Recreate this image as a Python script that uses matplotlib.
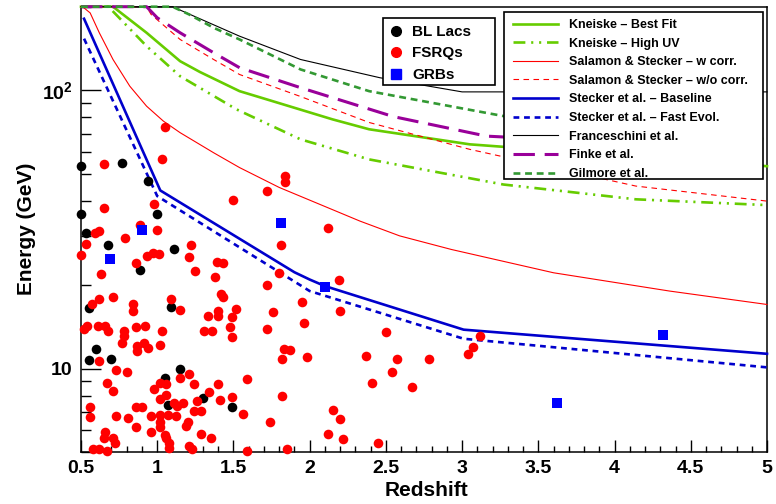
import numpy as np
import matplotlib
matplotlib.use("Agg")
import matplotlib.pyplot as plt
from matplotlib.lines import Line2D
from matplotlib.patches import Rectangle
from matplotlib.ticker import FixedLocator, LogLocator, NullFormatter, MultipleLocator

plt.rcParams['font.family'] = ['Liberation Sans', 'DejaVu Sans']
plt.rcParams['font.weight'] = 'bold'
plt.rcParams['mathtext.fontset'] = 'custom'
plt.rcParams['mathtext.rm'] = 'Liberation Sans:bold'
plt.rcParams['mathtext.bf'] = 'Liberation Sans:bold'

# ---------------- data ----------------
bllac_z = [0.50, 0.77, 0.94, 0.50, 1.00, 0.53, 0.68, 1.11, 0.89, 0.55, 1.09, 0.60,
           0.55, 0.70, 1.15, 1.05, 1.30, 1.07, 1.49]
bllac_E = [53.5, 54.7, 47.4, 36.0, 36.1, 30.8, 27.9, 27.0, 22.6, 16.5, 16.7, 11.8,
           10.7, 10.8, 10.0, 9.28, 7.83, 7.38, 7.30]

fsrq_z = [1.05, 0.65, 1.03, 0.65, 0.98, 0.89, 1.00, 0.59, 0.62, 0.79, 0.53, 0.50,
          1.22, 1.21, 0.93, 0.97, 1.01, 0.86, 0.63, 1.25, 0.62, 0.71, 1.09, 1.38,
          0.57, 0.84, 0.84, 1.15, 1.33, 0.52, 0.54, 0.61, 0.66, 0.68, 0.78, 0.78,
          0.77, 0.86, 0.92, 0.87, 0.87, 0.91, 0.94, 1.03, 1.02, 1.31, 1.36, 0.62,
          0.73, 0.80, 1.15, 1.21, 1.02, 1.06, 0.67, 0.71, 0.98, 1.24, 1.34, 1.06,
          1.02, 1.26, 1.11, 1.13, 1.17, 0.56, 0.56, 0.86, 0.90, 1.24, 1.29, 0.73,
          0.81, 0.96, 1.02, 1.07, 1.12, 1.20, 1.19, 0.86, 1.02, 1.02, 1.05, 1.06,
          0.96, 1.29, 1.35, 0.66, 0.65, 0.71, 0.72, 1.08, 1.08, 1.21, 1.23, 0.58,
          0.62, 0.67,
          1.84, 1.84, 1.72, 1.50, 2.12, 1.81, 1.39, 1.43, 1.80, 1.72, 2.19, 1.42,
          1.43, 1.52, 1.40, 1.40, 1.49, 1.76, 1.95, 2.20, 1.48, 1.49, 1.96, 1.72,
          1.83, 1.87, 1.82, 1.98, 1.59, 1.40, 1.41, 1.49, 1.56, 1.82, 1.74, 2.15,
          2.20, 2.12, 2.22, 1.59, 1.85,
          2.50, 2.37, 2.57, 2.78, 2.54, 2.41, 2.67, 2.45, 3.04, 3.07, 3.12]
fsrq_E = [73.9, 54.5, 56.8, 37.8, 39.2, 32.9, 31.5, 30.7, 31.3, 29.5, 28.0, 25.5,
          27.9, 25.1, 25.3, 26.0, 25.9, 23.9, 21.9, 22.4, 17.8, 18.1, 17.8, 21.4,
          17.0, 17.1, 16.1, 16.2, 15.5, 13.9, 14.2, 14.2, 14.2, 13.7, 13.7, 13.1,
          12.4, 14.1, 14.2, 12.1, 11.6, 12.4, 11.9, 13.7, 12.2, 13.7, 13.6, 10.65,
          9.89, 9.70, 9.28, 9.54, 8.88, 8.83, 8.84, 8.31, 8.43, 8.83, 8.22, 8.05,
          7.76, 7.63, 7.55, 7.32, 7.51, 7.28, 6.67, 7.30, 7.30, 7.01, 7.01, 6.73,
          6.66, 6.73, 6.80, 6.79, 6.74, 6.40, 6.22, 6.14, 6.44, 6.15, 5.77, 5.65,
          5.90, 5.83, 5.64, 5.90, 5.65, 5.65, 5.40, 5.38, 5.18, 5.26, 5.14, 5.12,
          5.12, 5.05,
          49.2, 46.8, 43.4, 40.4, 32.0, 27.7, 24.2, 23.9, 22.1, 20.0, 20.9, 18.5,
          18.1, 16.4, 16.1, 15.5, 15.3, 16.0, 17.4, 16.1, 14.1, 13.0, 14.6, 13.9,
          11.8, 11.7, 10.8, 11.0, 9.21, 8.78, 7.71, 7.89, 6.88, 7.95, 6.45, 7.08,
          6.61, 5.83, 5.60, 5.06, 5.12,
          13.5, 11.1, 10.8, 10.8, 9.72, 8.91, 8.61, 5.38, 11.3, 12.0, 13.1]

grb_z = [0.90, 0.69, 1.81, 2.10, 3.62, 4.32]
grb_E = [31.5, 24.8, 33.5, 19.7, 7.5, 13.2]

kneiske_best_z = [0.50, 0.71, 0.93, 1.06, 1.15, 1.28, 1.54, 1.72, 2.15, 2.39, 3.05, 5.00]
kneiske_best_E = [200, 200, 161.2, 140.3, 127.4, 116.5, 99.4, 92.8, 78.7, 72.5, 64.0, 53.4]

kneiske_uv_z = [0.50, 0.68, 0.93, 1.15, 1.52, 1.94, 2.39, 3.27, 4.14, 5.00]
kneiske_uv_E = [200, 200, 144.3, 112.5, 85.5, 66.7, 56.5, 45.9, 40.6, 38.7]

salamon_w_z = [0.50, 0.51, 0.56, 0.62, 0.71, 0.82, 0.93, 1.04, 1.15, 1.37, 1.54,
               1.80, 2.33, 2.59, 2.93, 3.60, 4.36, 5.00]
salamon_w_E = [200, 200, 190, 161.2, 129.2, 103.6, 87.8, 77.6, 70.5, 59.7, 52.8,
               44.8, 33.9, 30.0, 26.8, 22.1, 19.0, 17.0]

salamon_wo_z = [0.50, 0.93, 0.96, 1.15, 1.37, 1.54, 1.94, 2.39, 3.05, 4.14, 5.00]
salamon_wo_E = [200, 200, 187.5, 152.5, 129.2, 114.1, 95.1, 76.7, 61.4, 45.3, 40.0]

stecker_base_z = [0.52, 1.02, 1.90, 2.00, 2.10, 3.01, 5.00]
stecker_base_E = [181.0, 43.7, 22.2, 20.9, 19.8, 13.8, 11.3]

stecker_fast_z = [0.52, 1.00, 2.00, 3.01, 5.00]
stecker_fast_E = [153.5, 41.7, 19.0, 12.8, 10.1]

franceschini_z = [0.50, 1.10, 1.54, 1.94, 2.46, 3.00, 5.00]
franceschini_E = [200, 200, 156.7, 129.2, 111.1, 98.8, 98.8]

finke_z = [0.50, 0.93, 1.00, 1.15, 1.37, 1.54, 1.94, 2.55, 3.16, 5.00]
finke_E = [200, 200, 182.5, 161.2, 136.6, 120.7, 102.3, 80.5, 68.5, 61.0]

gilmore_z = [0.50, 1.10, 1.21, 1.37, 1.54, 1.94, 2.39, 3.27, 5.00]
gilmore_E = [200, 200, 187.5, 168.0, 152.5, 119.0, 99.4, 80.9, 66.7]

xticks = [0.5, 1, 1.5, 2, 2.5, 3, 3.5, 4, 4.5, 5]
xticklabels = ['0.5', '1', '1.5', '2', '2.5', '3', '3.5', '4', '4.5', '5']
yticks = [10, 100]
yticklabels = ['10', r'$\mathbf{10^{2}}$']

# ---------------- figure ----------------
W, H = 776, 504
fig = plt.figure(figsize=(W / 100, H / 100), dpi=100)
ax = fig.add_axes([81 / W, 1 - 452.3 / H, (767 - 81) / W, (452.3 - 6.7) / H])
ax.set_yscale('log')
ax.set_xlim(0.5, 5.0)
ax.set_ylim(5.0, 200.0)

GREEN = '#66cc00'
DKGREEN = '#339933'
PURPLE = '#990099'
BLUE = '#0000cc'
RED = '#ff0000'

models = [
    (kneiske_best_z, kneiske_best_E, dict(color=GREEN, lw=1.9, ls='-'), 'Kneiske \u2013 Best Fit'),
    (kneiske_uv_z, kneiske_uv_E, dict(color=GREEN, lw=1.9, ls=(0, (4.5, 2.2, 0.8, 2.2, 0.8, 2.2))), 'Kneiske \u2013 High UV'),
    (salamon_w_z, salamon_w_E, dict(color=RED, lw=0.8, ls='-'), 'Salamon & Stecker \u2013 w corr.'),
    (salamon_wo_z, salamon_wo_E, dict(color=RED, lw=0.8, ls=(0, (5, 4))), 'Salamon & Stecker \u2013 w/o corr.'),
    (stecker_base_z, stecker_base_E, dict(color=BLUE, lw=1.9, ls='-'), 'Stecker et al. \u2013 Baseline'),
    (stecker_fast_z, stecker_fast_E, dict(color=BLUE, lw=1.9, ls=(0, (2.2, 1.8))), 'Stecker et al. \u2013 Fast Evol.'),
    (franceschini_z, franceschini_E, dict(color='black', lw=0.8, ls='-'), 'Franceschini et al.'),
    (finke_z, finke_E, dict(color=PURPLE, lw=2.2, ls=(0, (7, 3.2))), 'Finke et al.'),
    (gilmore_z, gilmore_E, dict(color=DKGREEN, lw=1.9, ls=(0, (2.6, 1.8))), 'Gilmore et al.'),
]

model_handles = []
for zz, ee, st, lab in models:
    ax.plot(zz, ee, clip_on=False, zorder=3, **st)
    model_handles.append(Line2D([], [], label=lab, **st))

ax.scatter(bllac_z, bllac_E, s=48, color='black', marker='o', linewidths=0, zorder=4, clip_on=False)
ax.scatter(fsrq_z, fsrq_E, s=48, color=RED, marker='o', linewidths=0, zorder=5, clip_on=False)
ax.scatter(grb_z, grb_E, s=42, color='#0000ff', marker='s', linewidths=0, zorder=6, clip_on=False)

# ---------------- axes styling ----------------
for sp in ax.spines.values():
    sp.set_linewidth(1.1)

ax.xaxis.set_major_locator(FixedLocator(xticks))
ax.set_xticklabels(xticklabels)
ax.xaxis.set_minor_locator(MultipleLocator(0.1))
ax.yaxis.set_major_locator(FixedLocator(yticks))
ax.set_yticklabels(yticklabels)
ax.yaxis.set_minor_locator(LogLocator(base=10, subs=np.arange(2, 10)))
ax.yaxis.set_minor_formatter(NullFormatter())

ax.tick_params(axis='x', which='major', direction='in', length=8.6, width=1.0,
               labelsize=14, pad=5.5, top=False)
ax.tick_params(axis='x', which='minor', direction='in', length=4.5, width=1.0, top=False)
ax.tick_params(axis='y', which='major', direction='in', length=14.4, width=1.0,
               labelsize=14, pad=6, right=False)
ax.tick_params(axis='y', which='minor', direction='in', length=7.2, width=1.0, right=False)
for lab in ax.get_xticklabels() + ax.get_yticklabels():
    lab.set_fontweight('bold')

fig.text(426 / W, 1 - 491 / H, 'Redshift', ha='center', va='center',
         fontsize=15, fontweight='bold')
fig.text(27 / W, 1 - 229 / H, 'Energy (GeV)', ha='center', va='center',
         rotation=90, fontsize=15, fontweight='bold')

# ---------------- legends ----------------
def fig_box(x0, y0, x1, y1):
    r = Rectangle((x0 / W, 1 - y1 / H), (x1 - x0) / W, (y1 - y0) / H,
                  transform=fig.transFigure, facecolor='white', edgecolor='black',
                  linewidth=1.2, zorder=4)
    fig.patches.append(r)

fig_box(383, 17.7, 495, 85)
fig_box(504, 12.3, 763, 179)

src_handles = [
    Line2D([], [], marker='o', color='black', ls='none', ms=7, label='BL Lacs'),
    Line2D([], [], marker='o', color=RED, ls='none', ms=7, label='FSRQs'),
    Line2D([], [], marker='s', color='#0000ff', ls='none', ms=6.5, label='GRBs'),
]
leg1 = fig.legend(handles=src_handles, loc='upper left',
                  bbox_to_anchor=(384.5 / W, 1 - 19.5 / H), borderaxespad=0,
                  frameon=False, prop={'size': 11, 'weight': 'bold'},
                  handlelength=0.8, handletextpad=0.65, labelspacing=0.5,
                  borderpad=0.35)
leg1.set_zorder(6)

leg2 = fig.legend(handles=model_handles, loc='upper left',
                  bbox_to_anchor=(508.6 / W, 1 - 14.5 / H), borderaxespad=0,
                  frameon=False, prop={'size': 9, 'weight': 'bold'},
                  handlelength=3.6, handletextpad=0.88, labelspacing=0.53,
                  borderpad=0.35)
leg2.set_zorder(6)

fig.savefig('out.png', dpi=100)
